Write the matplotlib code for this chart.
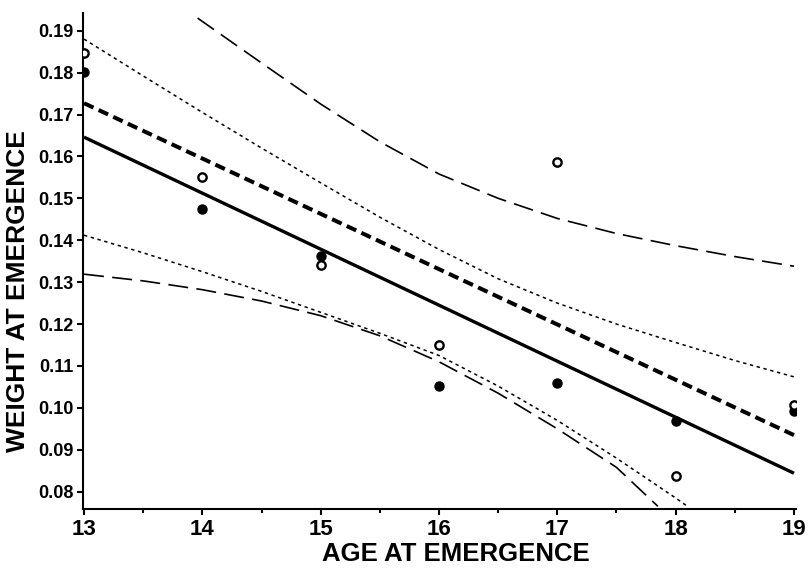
import matplotlib
matplotlib.use("Agg")
import matplotlib.pyplot as plt
from matplotlib import font_manager as fm
from matplotlib.ticker import MultipleLocator, FixedLocator

# ---------------- data ----------------
ages = [13, 14, 15, 16, 17, 18, 19]
weight_filled = [0.1801, 0.1474, 0.1362, 0.1052, 0.1059, 0.0968, 0.0992]
weight_open = [0.1847, 0.1552, 0.1341, 0.1150, 0.1587, 0.0837, 0.1008]

fit_x = [13, 19]
fit_solid_y = [0.1646, 0.0844]
fit_dashed_y = [0.1727, 0.0935]

upper_dot_x = [13, 13.5, 14, 14.5, 15, 15.5, 16, 16.5, 17, 17.5, 18, 18.5, 19]
upper_dot_y = [0.1880, 0.1792, 0.1705, 0.1620, 0.1537, 0.1455, 0.1378, 0.1308,
               0.1250, 0.1200, 0.1156, 0.1113, 0.1074]

lower_dot_x = [13, 13.5, 14, 14.5, 15, 15.5, 16, 16.5, 17, 17.5, 18, 18.1]
lower_dot_y = [0.1412, 0.1370, 0.1325, 0.1278, 0.1228, 0.1178, 0.1125, 0.1052,
               0.0970, 0.0880, 0.0785, 0.0765]

upper_long_x = [13.96, 14.5, 15, 15.5, 16, 16.5, 17, 17.5, 18, 18.5, 19]
upper_long_y = [0.1930, 0.1823, 0.1725, 0.1635, 0.1558, 0.1500, 0.1452, 0.1416,
                0.1387, 0.1361, 0.1338]

lower_long_x = [13, 13.5, 14, 14.5, 15, 15.5, 16, 16.5, 17, 17.5, 17.85]
lower_long_y = [0.1319, 0.1303, 0.1282, 0.1255, 0.1220, 0.1172, 0.1110, 0.1035,
                0.0950, 0.0858, 0.0765]

x_ticks = [13, 14, 15, 16, 17, 18, 19]
y_ticks = [0.08, 0.09, 0.10, 0.11, 0.12, 0.13, 0.14, 0.15, 0.16, 0.17, 0.18, 0.19]

# ---------------- fonts ----------------
names = {f.name for f in fm.fontManager.ttflist}
narrow = "Liberation Sans Narrow" if "Liberation Sans Narrow" in names else "Liberation Sans"
wide = "Liberation Sans" if "Liberation Sans" in names else "DejaVu Sans"

fig = plt.figure(figsize=(8.08, 5.70), dpi=100)
ax = fig.add_axes([83 / 808, 1 - 509 / 570, (796 - 83) / 808, (509 - 13) / 570])

ax.plot(fit_x, fit_solid_y, color="black", lw=2.4, solid_capstyle="butt")
ax.plot(fit_x, fit_dashed_y, color="black", lw=2.9, linestyle=(0, (2.6, 1.4)))
ax.plot(upper_dot_x, upper_dot_y, color="black", lw=1.1, linestyle=(0, (2.2, 2.4)))
ax.plot(lower_dot_x, lower_dot_y, color="black", lw=1.1, linestyle=(0, (2.2, 2.4)))
ax.plot(upper_long_x, upper_long_y, color="black", lw=1.2, linestyle=(0, (12, 5)))
ax.plot(lower_long_x, lower_long_y, color="black", lw=1.2, linestyle=(0, (12, 5)))

ax.plot(ages, weight_filled, "o", color="black", ms=6.5, linestyle="none", zorder=5)
ax.plot(ages, weight_open, "o", mfc="white", mec="black", mew=1.7, ms=6,
        linestyle="none", zorder=6)

ax.set_xlim(12.9915, 19.017)
ax.set_ylim(0.07587, 0.19422)

ax.spines["top"].set_visible(False)
ax.spines["right"].set_visible(False)
ax.spines["left"].set_linewidth(1.5)
ax.spines["bottom"].set_linewidth(1.5)

ax.xaxis.set_major_locator(FixedLocator(x_ticks))
ax.xaxis.set_minor_locator(MultipleLocator(0.5))
ax.yaxis.set_major_locator(FixedLocator(y_ticks))
ax.set_xticklabels([str(v) for v in x_ticks], fontfamily=narrow, fontweight="bold",
                   fontsize=16)
ax.set_yticklabels(["%.2f" % v for v in y_ticks], fontfamily=wide, fontweight="bold",
                   fontsize=13)
ax.tick_params(axis="x", which="major", direction="out", length=4, width=1.5, pad=3)
ax.tick_params(axis="x", which="minor", direction="out", length=3, width=1.5)
ax.tick_params(axis="y", which="major", direction="out", length=4, width=1.5, pad=3)

ax.set_xlabel("AGE AT EMERGENCE", fontfamily=narrow, fontweight="bold", fontsize=18.5)
ax.xaxis.set_label_coords(0.523, -0.066)
ax.set_ylabel("WEIGHT AT EMERGENCE", fontfamily=wide, fontweight="bold", fontsize=19)
ax.yaxis.set_label_coords(-0.074, 0.44)

fig.savefig("out.png", dpi=100)
